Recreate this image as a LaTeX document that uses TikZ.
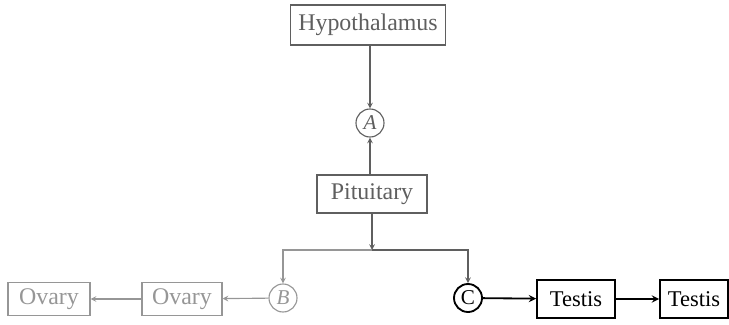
\documentclass[tikz,border=0pt]{standalone}
\usepackage{fontspec}
\setmainfont{Liberation Serif}
\usepackage{tikz}
\usetikzlibrary{arrows,shapes,positioning,calc}
\definecolor{faint}{RGB}{150,150,150}
\definecolor{mid}{RGB}{95,95,95}

\begin{document}
\begin{tikzpicture}[
    organ/.style={rectangle, draw=mid, text=mid, line width=0.8pt,
                  minimum height=1cm, inner sep=2pt, font=\fontsize{17}{19}\selectfont},
    ovarybox/.style={rectangle, draw=faint, text=faint, line width=0.8pt,
                  minimum width=2cm, minimum height=0.83cm, font=\fontsize{17}{19}\selectfont},
    testisbox/.style={rectangle, draw=black, text=black, line width=1.3pt,
                  minimum height=0.93cm, font=\fontsize{16}{18}\selectfont},
    hormone/.style={circle, draw=mid, text=mid, line width=0.8pt, minimum size=0.7cm,
                  inner sep=0pt, font=\fontsize{15}{17}\selectfont\itshape},
    >=stealth
]
    \useasboundingbox (0,0) rectangle (18.225,8.1);

    % Brain
    \node[organ, minimum width=3.875cm] (hypo) at (9.2, 7.475) {Hypothalamus};
    \node[hormone] (a) at (9.25, 5.025) {A};
    \node[organ, minimum width=2.75cm, minimum height=0.95cm] (pit) at (9.3, 3.25) {Pituitary};

    % Gonads
    \node[hormone, draw=faint, text=faint] (b) at (7.075, 0.65) {B};
    \node[hormone, draw=black, text=black, line width=1.3pt, font=\fontsize{15}{17}\selectfont] (c) at (11.7, 0.65) {C};
    \node[ovarybox] (ovary2) at (4.55, 0.625) {Ovary};
    \node[ovarybox, minimum width=2.05cm] (ovary1) at (1.225, 0.625) {Ovary};
    \node[testisbox, minimum width=1.95cm] (testis1) at (14.4, 0.625) {Testis};
    \node[testisbox, minimum width=1.7cm] (testis2) at (17.35, 0.625) {Testis};

    \coordinate (split) at (9.3, 1.85);

    % Arrows
    \draw[->, mid, line width=0.8pt] (hypo.south -| a) -- (a);
    \draw[->, mid, line width=0.8pt] (pit.north -| a) -- (a);
    \draw[->, mid, line width=0.8pt] (pit) -- (split);
    \draw[->, faint, line width=0.8pt] (split) -| (b);
    \draw[->, mid, line width=0.8pt] (split) -| (c);
    \draw[->, faint, line width=0.8pt] (b) -- (ovary2);
    \draw[->, faint, line width=0.8pt] (ovary2) -- (ovary1);
    \draw[->, line width=1.3pt] (c) -- (testis1);
    \draw[->, line width=1.3pt] (testis1) -- (testis2);
\end{tikzpicture}
\end{document}
